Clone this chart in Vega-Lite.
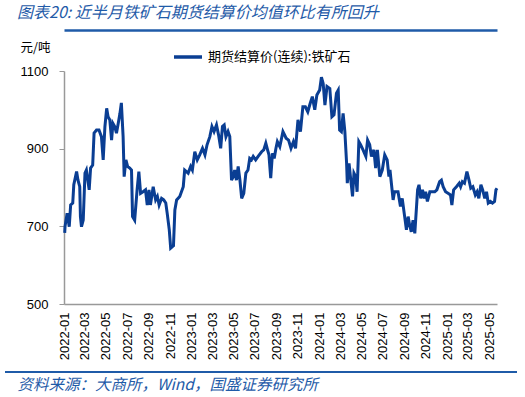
{
"$schema": "https://vega.github.io/schema/vega-lite/v6.json",
"width": 433,
"height": 233,
"autosize": "none",
"padding": {"left": 64, "top": 71, "right": 28, "bottom": 93},
"background": "white",
"config": {"font": "Liberation Sans", "view": {"stroke": null}},
"title": {"text": "图表20: 近半月铁矿石期货结算价均值环比有所回升", "anchor": "start", "frame": "group", "dx": -47, "offset": 9, "fontSize": 16, "fontStyle": "italic", "fontWeight": "normal", "color": "#1f5ba8", "font": "Noto Sans CJK SC"},
"resolve": {"axis": {"x": "independent"}},
"data": {"values": [
{"date":"2022-01-03","price":683},{"date":"2022-01-04","price":700},{"date":"2022-01-10","price":734},{"date":"2022-01-16","price":699},{"date":"2022-01-20","price":755},{"date":"2022-01-26","price":760},{"date":"2022-01-29","price":807},{"date":"2022-02-06","price":841},{"date":"2022-02-10","price":819},{"date":"2022-02-15","price":802},{"date":"2022-02-17","price":725},{"date":"2022-02-20","price":699},{"date":"2022-02-25","price":716},{"date":"2022-03-02","price":837},{"date":"2022-03-06","price":845},{"date":"2022-03-14","price":794},{"date":"2022-03-18","price":850},{"date":"2022-03-24","price":858},{"date":"2022-03-28","price":940},{"date":"2022-04-04","price":948},{"date":"2022-04-11","price":948},{"date":"2022-04-18","price":931},{"date":"2022-04-23","price":871},{"date":"2022-04-28","price":957},{"date":"2022-05-03","price":1004},{"date":"2022-05-07","price":982},{"date":"2022-05-12","price":974},{"date":"2022-05-17","price":922},{"date":"2022-05-21","price":965},{"date":"2022-05-26","price":957},{"date":"2022-05-31","price":940},{"date":"2022-06-05","price":965},{"date":"2022-06-10","price":991},{"date":"2022-06-14","price":1018},{"date":"2022-06-19","price":931},{"date":"2022-06-22","price":828},{"date":"2022-06-27","price":871},{"date":"2022-07-02","price":854},{"date":"2022-07-08","price":850},{"date":"2022-07-13","price":845},{"date":"2022-07-16","price":725},{"date":"2022-07-22","price":716},{"date":"2022-07-29","price":794},{"date":"2022-08-03","price":841},{"date":"2022-08-08","price":785},{"date":"2022-08-15","price":789},{"date":"2022-08-22","price":794},{"date":"2022-08-27","price":755},{"date":"2022-09-01","price":794},{"date":"2022-09-05","price":755},{"date":"2022-09-13","price":802},{"date":"2022-09-20","price":768},{"date":"2022-09-25","price":777},{"date":"2022-09-30","price":755},{"date":"2022-10-07","price":772},{"date":"2022-10-13","price":768},{"date":"2022-10-19","price":760},{"date":"2022-10-23","price":734},{"date":"2022-10-29","price":691},{"date":"2022-11-02","price":644},{"date":"2022-11-07","price":648},{"date":"2022-11-10","price":650},{"date":"2022-11-14","price":742},{"date":"2022-11-19","price":768},{"date":"2022-11-28","price":777},{"date":"2022-12-08","price":802},{"date":"2022-12-12","price":845},{"date":"2022-12-22","price":837},{"date":"2022-12-29","price":854},
{"date":"2023-01-03","price":845},{"date":"2023-01-10","price":892},{"date":"2023-01-17","price":871},{"date":"2023-01-24","price":884},{"date":"2023-02-01","price":901},{"date":"2023-02-08","price":884},{"date":"2023-02-14","price":910},{"date":"2023-02-22","price":931},{"date":"2023-02-28","price":957},{"date":"2023-03-06","price":944},{"date":"2023-03-13","price":961},{"date":"2023-03-19","price":935},{"date":"2023-03-25","price":901},{"date":"2023-03-30","price":957},{"date":"2023-04-04","price":961},{"date":"2023-04-09","price":931},{"date":"2023-04-15","price":944},{"date":"2023-04-20","price":931},{"date":"2023-04-25","price":819},{"date":"2023-04-30","price":828},{"date":"2023-05-04","price":845},{"date":"2023-05-09","price":819},{"date":"2023-05-14","price":854},{"date":"2023-05-19","price":819},{"date":"2023-05-24","price":772},{"date":"2023-05-30","price":785},{"date":"2023-06-05","price":837},{"date":"2023-06-11","price":845},{"date":"2023-06-16","price":875},{"date":"2023-06-21","price":871},{"date":"2023-06-26","price":880},{"date":"2023-07-03","price":871},{"date":"2023-07-10","price":880},{"date":"2023-07-20","price":892},{"date":"2023-07-26","price":897},{"date":"2023-08-01","price":914},{"date":"2023-08-06","price":897},{"date":"2023-08-10","price":884},{"date":"2023-08-15","price":824},{"date":"2023-08-20","price":888},{"date":"2023-08-25","price":875},{"date":"2023-08-30","price":901},{"date":"2023-09-03","price":918},{"date":"2023-09-10","price":905},{"date":"2023-09-19","price":944},{"date":"2023-09-24","price":935},{"date":"2023-09-28","price":927},{"date":"2023-10-05","price":922},{"date":"2023-10-12","price":901},{"date":"2023-10-19","price":918},{"date":"2023-10-25","price":901},{"date":"2023-11-01","price":974},{"date":"2023-11-08","price":944},{"date":"2023-11-15","price":1008},{"date":"2023-11-22","price":1008},{"date":"2023-11-29","price":995},{"date":"2023-12-06","price":1017},{"date":"2023-12-12","price":1034},{"date":"2023-12-19","price":1000},{"date":"2023-12-25","price":1038},
{"date":"2024-01-02","price":1051},{"date":"2024-01-07","price":1084},{"date":"2024-01-12","price":1068},{"date":"2024-01-17","price":1012},{"date":"2024-01-23","price":1060},{"date":"2024-01-31","price":1055},{"date":"2024-02-06","price":982},{"date":"2024-02-12","price":987},{"date":"2024-02-19","price":1043},{"date":"2024-02-24","price":1051},{"date":"2024-02-28","price":948},{"date":"2024-03-04","price":944},{"date":"2024-03-09","price":991},{"date":"2024-03-14","price":944},{"date":"2024-03-19","price":862},{"date":"2024-03-21","price":811},{"date":"2024-03-26","price":862},{"date":"2024-03-31","price":819},{"date":"2024-04-05","price":777},{"date":"2024-04-09","price":837},{"date":"2024-04-14","price":828},{"date":"2024-04-18","price":789},{"date":"2024-04-23","price":918},{"date":"2024-04-28","price":910},{"date":"2024-05-05","price":897},{"date":"2024-05-13","price":880},{"date":"2024-05-18","price":922},{"date":"2024-05-24","price":910},{"date":"2024-05-29","price":880},{"date":"2024-06-05","price":897},{"date":"2024-06-10","price":850},{"date":"2024-06-15","price":897},{"date":"2024-06-22","price":828},{"date":"2024-06-29","price":845},{"date":"2024-07-06","price":884},{"date":"2024-07-13","price":871},{"date":"2024-07-18","price":828},{"date":"2024-07-21","price":845},{"date":"2024-07-25","price":811},{"date":"2024-07-30","price":768},{"date":"2024-08-03","price":789},{"date":"2024-08-13","price":789},{"date":"2024-08-20","price":751},{"date":"2024-08-25","price":772},{"date":"2024-09-01","price":725},{"date":"2024-09-06","price":691},{"date":"2024-09-11","price":725},{"date":"2024-09-15","price":704},{"date":"2024-09-20","price":686},{"date":"2024-09-25","price":716},{"date":"2024-09-30","price":682},{"date":"2024-10-08","price":794},{"date":"2024-10-12","price":807},{"date":"2024-10-17","price":772},{"date":"2024-10-22","price":794},{"date":"2024-10-27","price":772},{"date":"2024-10-31","price":789},{"date":"2024-11-05","price":764},{"date":"2024-11-12","price":789},{"date":"2024-11-19","price":789},{"date":"2024-11-26","price":789},{"date":"2024-12-02","price":794},{"date":"2024-12-10","price":815},{"date":"2024-12-15","price":819},{"date":"2024-12-20","price":802},{"date":"2024-12-27","price":789},
{"date":"2025-01-03","price":785},{"date":"2025-01-10","price":781},{"date":"2025-01-14","price":755},{"date":"2025-01-19","price":794},{"date":"2025-01-27","price":802},{"date":"2025-02-04","price":811},{"date":"2025-02-08","price":802},{"date":"2025-02-13","price":815},{"date":"2025-02-19","price":811},{"date":"2025-02-26","price":841},{"date":"2025-03-04","price":819},{"date":"2025-03-09","price":798},{"date":"2025-03-15","price":802},{"date":"2025-03-22","price":781},{"date":"2025-03-27","price":789},{"date":"2025-04-01","price":772},{"date":"2025-04-07","price":807},{"date":"2025-04-12","price":794},{"date":"2025-04-18","price":772},{"date":"2025-04-23","price":789},{"date":"2025-04-28","price":760},{"date":"2025-05-04","price":764},{"date":"2025-05-10","price":760},{"date":"2025-05-16","price":764},{"date":"2025-05-20","price":794},{"date":"2025-05-23","price":798}
]},
"layer": [
{
"mark": {"type": "rule", "color": "#1f5ba8", "strokeWidth": 2},
"encoding": {"x": {"value": -59}, "x2": {"value": 453}, "y": {"value": 301}}
},
{
"mark": {"type": "line", "strokeWidth": 3, "interpolate": "linear"},
"encoding": {
"x": {"field": "date", "type": "temporal",
"scale": {"type": "utc", "domain": [{"year": 2022, "month": 1, "date": 1, "utc": true}, {"year": 2025, "month": 5, "date": 23, "utc": true}]},
"axis": {"title": "资料来源：大商所，Wind，国盛证券研究所", "titleFont": "Noto Sans CJK SC", "titleFontSize": 15.5, "titleFontStyle": "italic", "titleFontWeight": "normal", "titleColor": "#1f5ba8", "titleAnchor": "start", "titleAlign": "left", "titleBaseline": "middle", "titleX": -47, "titleY": 80,
"format": "%Y-%m", "tickCount": {"interval": "month", "step": 2}, "labelAngle": -90, "labelAlign": "right", "labelBaseline": "middle", "labelFontSize": 13, "labelColor": "#000000", "labelPadding": 8, "labelOverlap": false, "labelFlush": false, "ticks": false, "domainColor": "#999999", "domainWidth": 1.5, "grid": false}},
"y": {"field": "price", "type": "quantitative",
"scale": {"domain": [500, 1100], "nice": false, "zero": false},
"axis": {"title": "元/吨", "titleFont": "Noto Sans CJK SC", "titleFontSize": 12.5, "titleFontWeight": "normal", "titleColor": "#000000", "titleAngle": 0, "titleAlign": "left", "titleBaseline": "middle", "titleX": -44, "titleY": -24,
"values": [500, 700, 900, 1100], "format": "d", "labelFontSize": 13, "labelColor": "#000000", "labelPadding": 11, "tickSize": 5, "tickColor": "#999999", "domainColor": "#999999", "domainWidth": 1.5, "grid": false}},
"color": {"datum": "期货结算价(连续):铁矿石", "type": "nominal",
"scale": {"range": ["#0a3e93"]},
"legend": {"title": null, "orient": "none", "legendX": 108, "legendY": -30, "symbolType": "stroke", "symbolSize": 784, "symbolStrokeWidth": 3.5, "labelFont": "Noto Sans CJK SC", "labelFontSize": 13, "labelColor": "#000000", "labelOffset": 4}}
}
},
{
"mark": {"type": "point", "opacity": 0},
"encoding": {
"x": {"field": "date", "type": "temporal",
"axis": {"orient": "top", "offset": 41, "title": null, "labels": false, "ticks": false, "grid": false, "domainColor": "#1f5ba8", "domainWidth": 2.5}}
}
}
]
}
